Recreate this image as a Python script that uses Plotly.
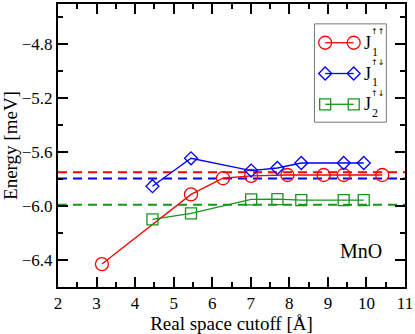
import plotly.graph_objects as go

# data
j1_uu_cut = [3.14, 5.45, 6.28, 7.01, 7.95, 8.89, 9.41, 10.41]
j1_uu = [-6.43, -5.913, -5.793, -5.776, -5.769, -5.769, -5.769, -5.769]

j1_ud_cut = [4.45, 5.45, 7.01, 7.69, 8.31, 9.41, 9.93]
j1_ud = [-5.852, -5.645, -5.736, -5.717, -5.68, -5.68, -5.68]

j2_ud_cut = [4.45, 5.45, 7.01, 7.69, 8.31, 9.41, 9.93]
j2_ud = [-6.098, -6.054, -5.95, -5.948, -5.956, -5.956, -5.956]

# converged reference values (dashed lines)
ref_j1_uu = -5.749
ref_j1_ud = -5.795
ref_j2_ud = -5.99

x_range = [2, 11]
y_range = [-6.6, -4.5]

RED = "#ff0000"
BLUE = "#0000ff"
GREEN = "#16961a"
FONT = "Liberation Serif"

fig = go.Figure()

# dashed reference lines spanning the full x range
for val, col in [(ref_j1_uu, RED), (ref_j1_ud, BLUE), (ref_j2_ud, GREEN)]:
    fig.add_trace(go.Scatter(
        x=x_range, y=[val, val], mode="lines",
        line=dict(color=col, width=2, dash="9px,6px"),
        hoverinfo="skip", showlegend=False, cliponaxis=True
    ))

series = [
    (j1_uu_cut, j1_uu, RED, "circle-open", 13),
    (j1_ud_cut, j1_ud, BLUE, "diamond-open", 10),
    (j2_ud_cut, j2_ud, GREEN, "square-open", 11),
]
for xs, ys, col, sym, size in series:
    fig.add_trace(go.Scatter(
        x=xs, y=ys, mode="lines+markers",
        line=dict(color=col, width=1.3),
        marker=dict(symbol=sym, size=size, color=col, line=dict(width=1.3, color=col)),
        showlegend=False, cliponaxis=False
    ))

# hand-made legend on an overlay axis in pixel units (matches plot area)
legend_rows = [(41, RED, "circle-open", 13, "1", "↑↑"),
               (72, BLUE, "diamond-open", 10, "1", "↑↓"),
               (103, GREEN, "square-open", 11, "2", "↑↓")]
for ypx, col, sym, size, sub, sup in legend_rows:
    fig.add_trace(go.Scatter(
        x=[325.7, 354.3], y=[ypx, ypx], xaxis="x2", yaxis="y2",
        mode="lines+markers",
        line=dict(color=col, width=1.3),
        marker=dict(symbol=sym, size=size, color=col, line=dict(width=1.3, color=col)),
        showlegend=False, hoverinfo="skip", cliponaxis=False
    ))
    fig.add_annotation(x=368, y=ypx, xref="x2", yref="y2", text="J",
                       showarrow=False, font=dict(family=FONT, size=18, color="black"))
    fig.add_annotation(x=375.5, y=ypx + 9, xref="x2", yref="y2", text=sub,
                       showarrow=False, font=dict(family=FONT, size=12, color="black"))
    fig.add_annotation(x=378, y=ypx - 11, xref="x2", yref="y2", text=sup,
                       showarrow=False, font=dict(family="DejaVu Sans", size=8, color="black"))

fig.add_shape(type="rect", xref="x2", yref="y2", x0=315, x1=387, y0=22, y1=121,
              line=dict(color="#777777", width=1), layer="above")

fig.add_annotation(x=9.85, y=-6.33, text="MnO", showarrow=False,
                   font=dict(family=FONT, size=20, color="black"))

tick_font = dict(family=FONT, size=17, color="black")
axis_common = dict(
    showline=True, linecolor="black", linewidth=2, mirror="ticks",
    ticks="inside", ticklen=10, tickwidth=1.5, tickcolor="black",
    showgrid=False, zeroline=False,
)

fig.update_layout(
    width=415, height=334,
    margin=dict(l=58, r=9, t=2, b=47),
    plot_bgcolor="white", paper_bgcolor="white",
    font=dict(family=FONT, color="black", size=17),
    xaxis=dict(range=x_range, dtick=1, tick0=2, tickfont=tick_font,
               title=dict(text="Real space cutoff [Å]", font=dict(family=FONT, size=19), standoff=0),
               minor=dict(dtick=0.5, ticks="inside", ticklen=5, tickwidth=1.5, tickcolor="black"),
               **axis_common),
    yaxis=dict(range=y_range, dtick=0.4, tick0=-4.8, tickformat=".1f", tickfont=tick_font,
               title=dict(text="Energy [meV]", font=dict(family=FONT, size=19), standoff=2),
               minor=dict(dtick=0.2, tick0=-4.8, ticks="inside", ticklen=5, tickwidth=1.5, tickcolor="black"),
               **axis_common),
    xaxis2=dict(range=[58, 405.7], overlaying="x", visible=False, fixedrange=True),
    yaxis2=dict(range=[287, 2], overlaying="y", visible=False, fixedrange=True),
)

# drop the browser's default 8px body margin so the figure sits at the page corner
fig.write_html("out.html", config={"displayModeBar": False},
               post_script="document.body.style.margin = '0px';")
